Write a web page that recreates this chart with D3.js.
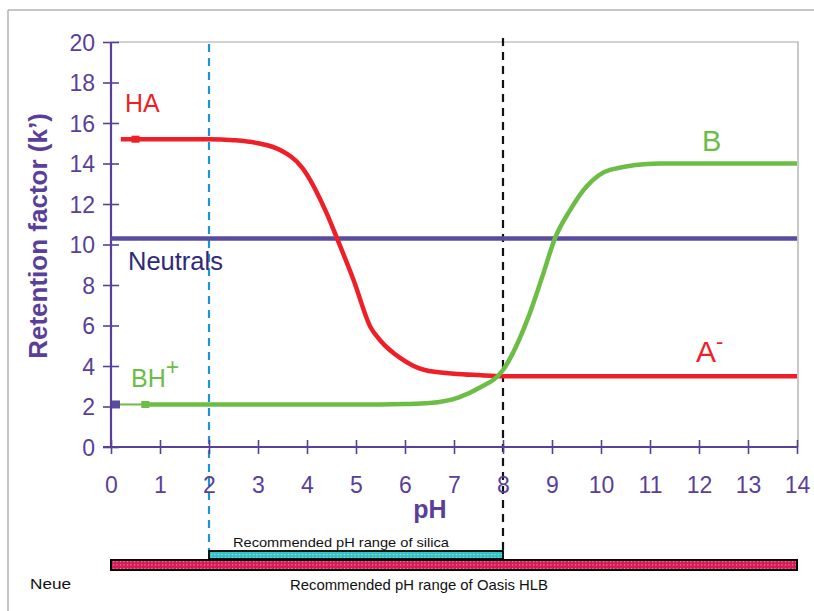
<!DOCTYPE html>
<html><head><meta charset="utf-8">
<script src="https://cdn.jsdelivr.net/npm/d3@7"></script>
<style>body{margin:0;background:#fff}svg{display:block;font-family:"Liberation Sans",Arial,sans-serif}</style>
</head><body>
<svg id="c" width="814" height="611"></svg>
<script>
const xTicks = [0,1,2,3,4,5,6,7,8,9,10,11,12,13,14];
const yTicks = [0,2,4,6,8,10,12,14,16,18,20];
const phHA = [0.2, 1, 2, 2.5, 3, 3.45, 3.9, 4.4, 4.63, 4.95, 5.3, 5.5, 5.9, 6.4, 7, 7.5, 8, 14];
const kHA  = [15.2, 15.2, 15.2, 15.15, 15.0, 14.67, 13.8, 11.55, 10.2, 8.25, 5.9, 5.25, 4.4, 3.8, 3.62, 3.55, 3.5, 3.5];
const phB  = [0.7, 2, 4, 5.5, 6, 6.5, 7.1, 7.5, 8, 8.5, 8.8, 9.06, 9.37, 9.7, 10.2, 11.2, 14];
const kB   = [2.1, 2.1, 2.1, 2.1, 2.12, 2.17, 2.45, 2.9, 3.8, 6.3, 8.4, 10.3, 11.7, 12.85, 13.7, 14.0, 14.0];
const phNeutral = [0, 14];
const kNeutral  = [10.3, 10.3];
const silicaRange = [2, 8];
const oasisRange = [0, 14];

const svg = d3.select("#c");
const x = d3.scaleLinear().domain([0,14]).range([111,797]);
const y = d3.scaleLinear().domain([0,20]).range([447,42]);
const purple = "#5a3f99";
const FONT = "Liberation Sans, Arial, sans-serif";

// outer frame
svg.append("line").attr("x1",8).attr("x2",814).attr("y1",10).attr("y2",10).attr("stroke","#b3b3b3").attr("stroke-width",1.5);
svg.append("line").attr("x1",8).attr("x2",8).attr("y1",10).attr("y2",611).attr("stroke","#b3b3b3").attr("stroke-width",1.5);
// plot frame
svg.append("path").attr("d",`M${x(0)},${y(20)}H${x(14)+1}V${y(0)}`).attr("fill","none").attr("stroke","#a6a6a6").attr("stroke-width",1.2);

// patterns
const defs = svg.append("defs");
function pat(id, col){
  const p = defs.append("pattern").attr("id",id).attr("width",3.5).attr("height",3.5).attr("patternUnits","userSpaceOnUse");
  p.append("rect").attr("width",3.5).attr("height",3.5).attr("fill",col);
  p.append("rect").attr("x",1).attr("y",1).attr("width",1).attr("height",1).attr("fill","#fff").attr("opacity",0.8);
}
pat("pSil","#33c3c6"); pat("pOas","#d8185a");

// dashed verticals
svg.append("line").attr("x1",x(2)).attr("x2",x(2)).attr("y1",44).attr("y2",551).attr("stroke","#1f93d2").attr("stroke-width",2.2).attr("stroke-dasharray","8,6");
svg.append("line").attr("x1",x(8)).attr("x2",x(8)).attr("y1",38).attr("y2",551).attr("stroke","#111").attr("stroke-width",2.2).attr("stroke-dasharray","8,6");

// axes
const yAxis = svg.append("g").attr("transform",`translate(${x(0)},0)`).call(d3.axisLeft(y).tickValues(yTicks).tickSize(8).tickFormat(d3.format("d")));
const xAxis = svg.append("g").attr("transform",`translate(0,${y(0)})`).call(d3.axisBottom(x).tickValues(xTicks).tickSize(7).tickFormat(d3.format("d")));
[yAxis,xAxis].forEach(g=>{
  g.attr("font-size",null).attr("font-family",null);
  g.select(".domain").attr("stroke",purple).attr("stroke-width",2.2);
  g.selectAll(".tick line").attr("stroke",purple).attr("stroke-width",1.6);
  g.selectAll(".tick text").attr("fill",purple).style("font-size","23px").style("font-family",FONT);
});
yAxis.selectAll(".tick line").attr("x1",8);
yAxis.selectAll(".tick text").attr("x",-16).attr("dy","0.36em");
xAxis.selectAll(".tick line").attr("y1",-7);
xAxis.selectAll(".tick text").attr("y",46).attr("dy",0);
yAxis.select(".domain").attr("d",`M0,${y(0)}V${y(20)}`);
xAxis.select(".domain").attr("d",`M${x(0)-8},0H${x(14)}`);

// axis titles
svg.append("text").attr("transform","translate(47,236) rotate(-90)").attr("text-anchor","middle")
  .attr("fill",purple).style("font-size","26px").attr("font-weight","bold").text("Retention factor (k’)");
svg.append("text").attr("x",430).attr("y",518).attr("text-anchor","middle").attr("fill",purple)
  .style("font-size","25px").attr("font-weight","bold").text("pH");

// lines
const line = d3.line().x(d=>x(d[0])).y(d=>y(d[1])).curve(d3.curveMonotoneX);
svg.append("path").datum(phNeutral.map((p,i)=>[p,kNeutral[i]])).attr("d",line).attr("fill","none").attr("stroke","#5b4b9f").attr("stroke-width",4.5);
svg.append("path").datum(phHA.map((p,i)=>[p,kHA[i]])).attr("d",line).attr("fill","none").attr("stroke","#ee1f26").attr("stroke-width",4.5);
// BH+ lead-in
svg.append("line").attr("x1",x(0.15)).attr("x2",x(0.7)).attr("y1",y(2.1)).attr("y2",y(2.1)).attr("stroke","#6cbd45").attr("stroke-width",2);
svg.append("path").datum(phB.map((p,i)=>[p,kB[i]])).attr("d",line).attr("fill","none").attr("stroke","#6cbd45").attr("stroke-width",4.5);
// markers
svg.append("rect").attr("x",x(0.5)-4).attr("y",y(15.2)-3.5).attr("width",8).attr("height",7).attr("fill","#ee1f26");
svg.append("rect").attr("x",x(0.7)-4).attr("y",y(2.1)-3.5).attr("width",8).attr("height",7).attr("fill","#6cbd45");
svg.append("rect").attr("x",x(0)+1).attr("y",y(2.1)-4).attr("width",8).attr("height",8).attr("fill","#5b4b9f");

// labels
svg.append("text").attr("x",125).attr("y",112).attr("fill","#ee1f26").style("font-size","25px").text("HA");
svg.append("text").attr("x",702).attr("y",151).attr("fill","#6cbd45").style("font-size","29px").text("B");
svg.append("text").attr("x",128).attr("y",270).attr("fill","#2e2a7a").style("font-size","25.5px").text("Neutrals");
const bh = svg.append("text").attr("x",131).attr("y",387).attr("fill","#6cbd45").style("font-size","25px");
bh.append("tspan").text("BH");
bh.append("tspan").attr("dy",-12).style("font-size","23px").text("+");
const am = svg.append("text").attr("x",696).attr("y",362).attr("fill","#ee1f26").style("font-size","30px");
am.append("tspan").text("A");
am.append("tspan").attr("dy",-13).style("font-size","22px").text("-");

// bottom bars
svg.append("rect").attr("x",x(silicaRange[0])).attr("y",551).attr("width",x(silicaRange[1])-x(silicaRange[0])).attr("height",8)
  .attr("fill","url(#pSil)").attr("stroke","#000").attr("stroke-width",1.8);
svg.append("rect").attr("x",x(oasisRange[0])).attr("y",560).attr("width",x(oasisRange[1])-x(oasisRange[0])).attr("height",10)
  .attr("fill","url(#pOas)").attr("stroke","#000").attr("stroke-width",2);
svg.append("text").attr("x",233).attr("y",547).style("font-size","13px").attr("fill","#111")
  .attr("textLength",216).attr("lengthAdjust","spacingAndGlyphs").text("Recommended pH range of silica");
svg.append("text").attr("x",290).attr("y",590).style("font-size","14.5px").attr("fill","#111")
  .attr("textLength",258).attr("lengthAdjust","spacingAndGlyphs").text("Recommended pH range of Oasis HLB");
svg.append("text").attr("x",30).attr("y",589).style("font-size","14.5px").attr("fill","#111")
  .attr("textLength",41).attr("lengthAdjust","spacingAndGlyphs").text("Neue");
</script>
</body></html>
